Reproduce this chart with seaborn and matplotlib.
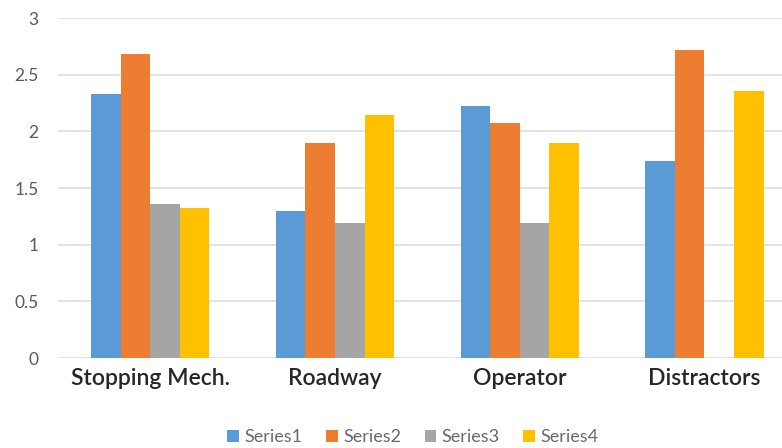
import matplotlib
matplotlib.use("Agg")
import matplotlib.pyplot as plt
import seaborn as sns
import pandas as pd
from matplotlib.patches import Patch

categories = ["Stopping Mech.", "Roadway", "Operator", "Distractors"]
series_names = ["Series1", "Series2", "Series3", "Series4"]
series1 = [2.33, 1.30, 2.22, 1.74]
series2 = [2.68, 1.90, 2.07, 2.72]
series3 = [1.36, 1.19, 1.19, 0.0]
series4 = [1.32, 2.14, 1.90, 2.36]
colors = ["#5B9BD5", "#ED7D31", "#A5A5A5", "#FFC000"]
yticks = [0, 0.5, 1, 1.5, 2, 2.5, 3]
ytick_labels = ["0", "0.5", "1", "1.5", "2", "2.5", "3"]

rows = []
for name, vals in zip(series_names, [series1, series2, series3, series4]):
    for c, v in zip(categories, vals):
        rows.append({"category": c, "series": name, "value": v})
df = pd.DataFrame(rows)

sns.set_theme(style="white")
plt.rcParams["font.family"] = ["Lato", "DejaVu Sans"]

fig = plt.figure(figsize=(7.82, 4.48), dpi=100)
ax = fig.add_axes([58 / 782, 1 - 358 / 448, 1 - 58 / 782, (358 - 18) / 448])

sns.barplot(data=df, x="category", y="value", hue="series", order=categories,
            hue_order=series_names, palette=colors, width=0.64, saturation=1,
            linewidth=0, ax=ax, legend=False, errorbar=None)

ax.set_ylim(0, 3)
ax.set_xlim(-0.5, 3.42)
ax.set_yticks(yticks)
ax.set_yticklabels(ytick_labels)
ax.yaxis.grid(True, color="#E3E3E3", linewidth=1.4)
ax.set_axisbelow(True)
for s in ax.spines.values():
    s.set_visible(False)
ax.tick_params(axis="y", length=0, pad=14, labelsize=12.5, labelcolor="#5A5A5A")
ax.tick_params(axis="x", length=0, pad=7, labelsize=16.5, labelcolor="#262626")
for lbl in ax.get_xticklabels():
    lbl.set_fontweight("semibold")
ax.set_xlabel("")
ax.set_ylabel("")

handles = [Patch(facecolor=c, edgecolor="none", label=n) for c, n in zip(colors, series_names)]
fig.legend(handles=handles, loc="center", bbox_to_anchor=(413 / 782, 1 - 437 / 448),
           ncol=4, frameon=False, fontsize=13, labelcolor="#6A6A6A",
           handlelength=0.65, handleheight=0.65, handletextpad=0.3, columnspacing=1.3)

fig.savefig("out.png", dpi=100)
